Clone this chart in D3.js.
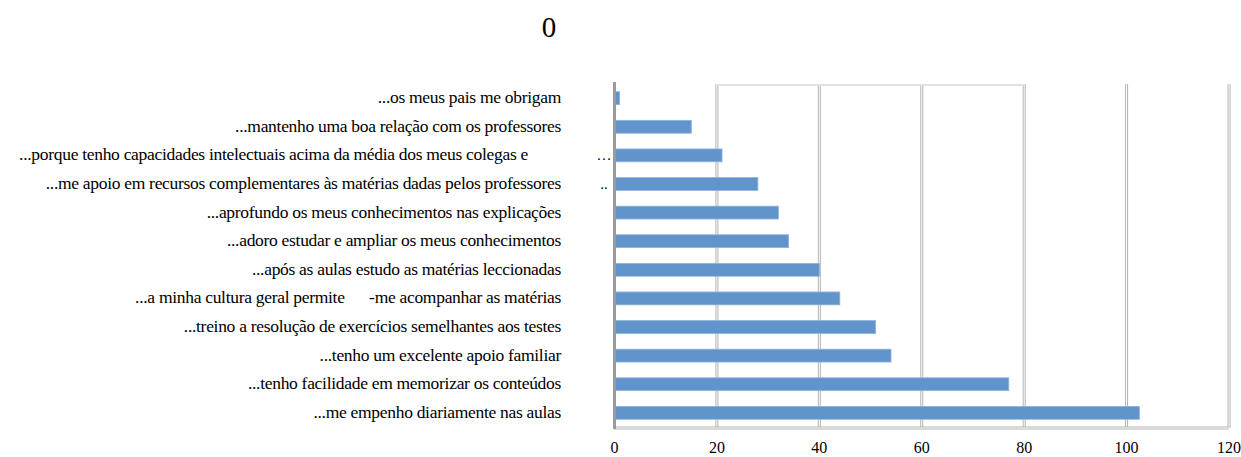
<!DOCTYPE html>
<html>
<head>
<meta charset="utf-8">
<script src="https://cdn.jsdelivr.net/npm/d3@7"></script>
<style>
  body { margin: 0; background: #fff; }
  svg text { font-family: "Liberation Serif", "DejaVu Serif", serif; fill: #000; white-space: pre; }
</style>
</head>
<body>
<div id="chart"></div>
<script>
// chart data, top row first
let labels = [
  "...os meus pais me obrigam",
  "...mantenho uma boa relação com os professores",
  "...porque tenho capacidades intelectuais acima da média dos meus colegas e",
  "...me apoio em recursos complementares às matérias dadas pelos professores",
  "...aprofundo os meus conhecimentos nas explicações",
  "...adoro estudar e ampliar os meus conhecimentos",
  "...após as aulas estudo as matérias leccionadas",
  "...a minha cultura geral permite      -me acompanhar as matérias",
  "...treino a resolução de exercícios semelhantes aos testes",
  "...tenho um excelente apoio familiar",
  "...tenho facilidade em memorizar os conteúdos",
  "...me empenho diariamente nas aulas"
];
// labels that Excel cut short
let truncated = ["…", ".."];
let truncatedIdx = [2, 3];

let values = [1, 15, 21, 28, 32, 34, 40, 44, 51, 54, 77, 102.5];
let ticks = [0, 20, 40, 60, 80, 100, 120];
let title = "0";

let W = 1241, H = 457;
let plot = {left: 614.5, right: 1229, top: 84, bottom: 427};

let svg = d3.select("#chart").append("svg")
  .attr("width", W)
  .attr("height", H)
  .attr("font-family", "Liberation Serif");

let x = d3.scaleLinear().domain([0, 120]).range([plot.left, plot.right]);
let y = d3.scaleBand().domain(labels).range([plot.top, plot.bottom]).paddingInner(0.55).paddingOuter(0.27);

// title
svg.append("text")
  .attr("x", 549).attr("y", 37)
  .attr("text-anchor", "middle")
  .style("font-size", "29px")
  .text(title);

// double grid lines
function doubleLine(x1, y1, x2, y2, col) {
  svg.append("line").attr("x1", x1).attr("y1", y1).attr("x2", x2).attr("y2", y2)
    .attr("stroke", col).attr("stroke-width", 3);
  svg.append("line").attr("x1", x1).attr("y1", y1).attr("x2", x2).attr("y2", y2)
    .attr("stroke", "#fff").attr("stroke-width", 1);
}

ticks.slice(1).forEach(function(t) {
  doubleLine(x(t), plot.top, x(t), plot.bottom + 1, "#b4b4b4");
});
doubleLine(plot.left, plot.bottom + 1, plot.right, plot.bottom + 1, "#b4b4b4");
// faint top edge
svg.append("line")
  .attr("x1", x(20)).attr("x2", x(80))
  .attr("y1", plot.top + 1).attr("y2", plot.top + 1)
  .attr("stroke", "#e2e2e2").attr("stroke-width", 2);

// bars
svg.selectAll("rect.bar")
  .data(values)
  .enter()
  .append("rect")
  .attr("class", "bar")
  .attr("x", x(0))
  .attr("y", function(d, i) { return y(labels[i]); })
  .attr("width", function(d) { return x(d) - x(0); })
  .attr("height", y.bandwidth())
  .attr("fill", "#6194cb")
  .attr("stroke", "#8fb4dd")
  .attr("stroke-width", 0.8);

// value axis line
svg.append("line")
  .attr("x1", plot.left).attr("x2", plot.left)
  .attr("y1", plot.top - 2).attr("y2", plot.bottom + 2)
  .attr("stroke", "#9a9a9a").attr("stroke-width", 3);

// category labels
svg.selectAll("text.lab")
  .data(labels)
  .enter()
  .append("text")
  .attr("class", "lab")
  .attr("x", function(d, i) { return i == 2 ? 528 : 561; })
  .attr("y", function(d) { return y(d) + y.bandwidth() / 2 + 5; })
  .attr("text-anchor", "end")
  .attr("xml:space", "preserve")
  .style("font-size", "17.5px")
  .style("letter-spacing", "-0.3px")
  .text(function(d) { return d; });

truncatedIdx.forEach(function(i, k) {
  svg.append("text")
    .attr("x", 604)
    .attr("y", y(labels[i]) + y.bandwidth() / 2 + 5)
    .attr("text-anchor", "middle")
    .style("font-size", "15px")
    .text(truncated[k]);
});

// tick labels
svg.selectAll("text.tick")
  .data(ticks)
  .enter()
  .append("text")
  .attr("class", "tick")
  .attr("x", function(d) { return x(d); })
  .attr("y", 453)
  .attr("text-anchor", "middle")
  .style("font-size", "16px")
  .text(function(d) { return d; });
</script>
</body>
</html>
